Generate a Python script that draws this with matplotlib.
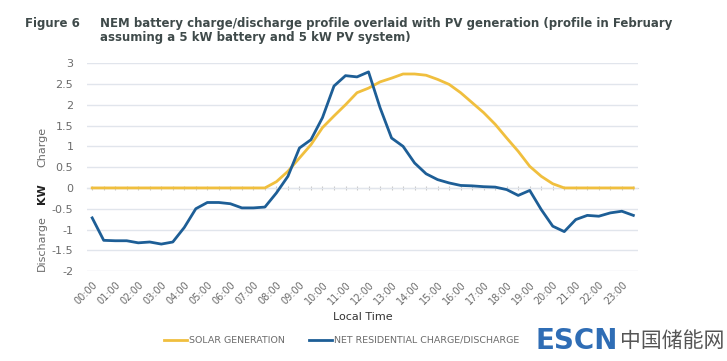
import numpy as np
import matplotlib.pyplot as plt

# half-hourly profile, 00:00 .. 23:30
times = ['%02d:%02d' % (h, m) for h in range(24) for m in (0, 30)]
solar = [0, 0, 0, 0, 0, 0, 0, 0, 0, 0, 0, 0, 0, 0, 0, 0,
         0.15, 0.4, 0.72, 1.04, 1.45, 1.73, 2.0, 2.29, 2.4, 2.55, 2.64, 2.74,
         2.74, 2.71, 2.61, 2.49, 2.29, 2.05, 1.81, 1.53, 1.2, 0.88, 0.52, 0.28,
         0.1, 0, 0, 0, 0, 0, 0, 0]
net = [-0.72, -1.26, -1.27, -1.27, -1.32, -1.3, -1.35, -1.3, -0.95, -0.5,
       -0.35, -0.35, -0.38, -0.48, -0.48, -0.46, -0.12, 0.28, 0.96, 1.16,
       1.69, 2.45, 2.7, 2.67, 2.79, 1.93, 1.2, 1.0, 0.6, 0.34, 0.2, 0.12,
       0.06, 0.05, 0.03, 0.02, -0.04, -0.18, -0.06, -0.52, -0.92, -1.05,
       -0.76, -0.66, -0.68, -0.6, -0.56, -0.66]
hour_labels = times[::2]

yellow = '#f0bf3e'
blue = '#1d5e96'
grey = '#6b6b6b'

fig = plt.figure(figsize=(7.27, 3.61), dpi=100)
ax = fig.add_axes([0.12, 0.249, 0.758, 0.576])

x = np.arange(len(times))
ax.plot(x, solar, color=yellow, lw=2.0, label='SOLAR GENERATION')
ax.plot(x, net, color=blue, lw=2.0, label='NET RESIDENTIAL CHARGE/DISCHARGE')

ax.set_ylim(-2, 3)
ax.set_xlim(-0.43, 47.43)
ax.set_yticks(np.arange(-2, 3.01, 0.5))
ax.set_yticklabels(['%g' % v for v in np.arange(-2, 3.01, 0.5)])
ax.yaxis.grid(True, color='#e1e5ec', lw=1)
ax.set_axisbelow(True)
for s in ax.spines.values():
    s.set_visible(False)
ax.tick_params(axis='y', length=0, labelsize=8, colors=grey, pad=10)

ax.set_xticks(x[::2])
ax.set_xticklabels(hour_labels, rotation=45, ha='right', va='top',
                   rotation_mode='anchor', fontsize=7, color=grey)
ax.tick_params(axis='x', length=0, pad=6)

# little category ticks on the zero line
zero = ax.secondary_xaxis(0.4)
zero.set_xticks(x)
zero.set_xticklabels([])
zero.tick_params(direction='inout', length=3, color='#c8c8c8')
zero.spines['bottom'].set_color('#d8d8d8')

ax.set_xlabel('Local Time', fontsize=8, color='#333333', labelpad=4)

fig.text(0.058, 0.593, 'Charge', rotation=90, ha='center', va='center', fontsize=8, color=grey)
fig.text(0.058, 0.465, 'KW', rotation=90, ha='center', va='center', fontsize=8, color='#222222', fontweight='bold')
fig.text(0.058, 0.327, 'Discharge', rotation=90, ha='center', va='center', fontsize=8, color=grey)

fig.text(0.034, 0.936, 'Figure 6', fontsize=8.5, fontweight='bold', color='#3f4a4a', va='center')
fig.text(0.137, 0.936, 'NEM battery charge/discharge profile overlaid with PV generation (profile in February',
         fontsize=8.5, fontweight='bold', color='#3f4a4a', va='center')
fig.text(0.137, 0.895, 'assuming a 5 kW battery and 5 kW PV system)',
         fontsize=8.5, fontweight='bold', color='#3f4a4a', va='center')

fig.legend(loc='center', bbox_to_anchor=(0.47, 0.057), ncol=2, frameon=False,
           fontsize=6.8, handlelength=2.5, handletextpad=0.2, columnspacing=2.5,
           labelcolor=grey)

# watermark
fig.text(0.737, 0.055, 'ESCN', fontsize=20, fontweight='bold', color='#2f6db5', va='center')
fig.text(0.853, 0.055, '中国储能网', fontsize=15, color='#555555', va='center',
         family=['Noto Sans CJK SC', 'DejaVu Sans'])

fig.savefig('out.png', dpi=100)
